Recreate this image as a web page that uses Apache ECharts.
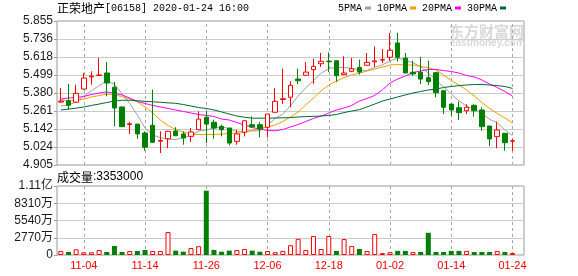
<!DOCTYPE html>
<html><head><meta charset="utf-8">
<script src="https://cdn.jsdelivr.net/npm/echarts@6/dist/echarts.min.js"></script>
<style>html,body{margin:0;padding:0;background:#fff}#c{width:578px;height:276px}</style>
</head><body><div id="c"></div>
<script>
const stockName = '正荣地产[06158]';
const stamp = '2020-01-24 16:00';
const dates = ['10-30','10-31','11-01','11-04','11-05','11-06','11-07','11-08','11-11','11-12',
  '11-13','11-14','11-15','11-18','11-19','11-20','11-21','11-22','11-25','11-26',
  '11-27','11-28','11-29','12-02','12-03','12-04','12-05','12-06','12-09','12-10',
  '12-11','12-12','12-13','12-16','12-17','12-18','12-19','12-20','12-23','12-24',
  '12-27','12-30','12-31','01-02','01-03','01-06','01-07','01-08','01-09','01-10',
  '01-13','01-14','01-15','01-16','01-17','01-20','01-21','01-22','01-23','01-24'];
const tickDates = ['11-04','11-14','11-26','12-06','12-18','01-02','01-14','01-24'];
const opens = [5.320,5.329,5.319,5.406,5.486,5.495,5.512,5.418,5.288,5.172,
  5.175,5.116,5.167,5.062,5.078,5.129,5.110,5.094,5.138,5.220,
  5.187,5.160,5.149,5.061,5.121,5.171,5.171,5.154,5.253,5.337,
  5.352,5.472,5.497,5.534,5.573,5.590,5.593,5.501,5.523,5.549,
  5.563,5.586,5.597,5.616,5.710,5.611,5.517,5.517,5.481,5.514,
  5.395,5.307,5.283,5.263,5.299,5.268,5.162,5.092,5.114,5.062];
const closes = [5.327,5.299,5.378,5.479,5.492,5.499,5.446,5.281,5.158,5.177,
  5.110,5.022,5.055,5.067,5.127,5.098,5.083,5.123,5.208,5.175,
  5.149,5.138,5.050,5.110,5.197,5.156,5.142,5.241,5.325,5.342,
  5.431,5.461,5.518,5.556,5.589,5.587,5.494,5.512,5.540,5.518,
  5.582,5.592,5.600,5.662,5.616,5.512,5.506,5.472,5.455,5.382,
  5.286,5.268,5.250,5.286,5.263,5.158,5.077,5.136,5.052,5.065];
const lows = [5.314,5.270,5.314,5.402,5.435,5.495,5.358,5.160,5.155,5.110,
  5.078,4.999,5.050,4.984,5.017,5.096,5.039,5.057,5.138,5.050,
  5.078,5.094,5.035,5.039,5.094,5.149,5.088,5.088,5.253,5.307,
  5.286,5.439,5.497,5.439,5.552,5.518,5.453,5.501,5.518,5.501,
  5.563,5.552,5.578,5.593,5.589,5.512,5.492,5.439,5.433,5.352,
  5.241,5.228,5.202,5.241,5.224,5.131,5.030,5.015,4.999,4.999];
const highs = [5.413,5.439,5.435,5.512,5.523,5.611,5.584,5.453,5.290,5.189,
  5.175,5.127,5.402,5.127,5.131,5.154,5.127,5.149,5.259,5.259,
  5.204,5.171,5.149,5.138,5.197,5.226,5.189,5.241,5.413,5.540,
  5.457,5.540,5.584,5.606,5.644,5.648,5.593,5.622,5.611,5.600,
  5.644,5.688,5.670,5.776,5.776,5.644,5.593,5.619,5.593,5.514,
  5.395,5.307,5.323,5.305,5.305,5.286,5.162,5.191,5.114,5.075];
const ma5 = [5.294,5.301,5.321,5.360,5.395,5.429,5.458,5.439,5.374,5.311,
  5.234,5.149,5.104,5.085,5.076,5.073,5.086,5.099,5.128,5.137,
  5.148,5.159,5.144,5.124,5.129,5.130,5.131,5.169,5.212,5.241,
  5.296,5.360,5.415,5.461,5.511,5.542,5.549,5.548,5.544,5.530,
  5.529,5.549,5.566,5.591,5.610,5.596,5.579,5.554,5.512,5.465,
  5.420,5.373,5.328,5.294,5.271,5.245,5.207,5.184,5.137,5.098];
const ma10 = [5.334,5.330,5.330,5.340,5.354,5.363,5.373,5.367,5.357,5.340,
  5.321,5.288,5.248,5.202,5.166,5.139,5.123,5.109,5.106,5.106,
  5.106,5.109,5.113,5.116,5.119,5.133,5.146,5.156,5.169,5.192,
  5.222,5.255,5.301,5.347,5.393,5.433,5.459,5.482,5.499,5.512,
  5.525,5.538,5.551,5.565,5.568,5.565,5.565,5.555,5.548,5.532,
  5.499,5.462,5.433,5.400,5.360,5.317,5.278,5.245,5.215,5.182];
const ma20 = [5.340,5.347,5.350,5.357,5.370,5.380,5.387,5.380,5.367,5.347,
  5.324,5.311,5.298,5.288,5.278,5.268,5.258,5.248,5.238,5.232,
  5.225,5.208,5.202,5.185,5.169,5.152,5.142,5.133,5.131,5.139,
  5.156,5.172,5.192,5.212,5.228,5.248,5.268,5.281,5.298,5.327,
  5.344,5.364,5.400,5.446,5.472,5.492,5.515,5.525,5.535,5.535,
  5.528,5.522,5.512,5.495,5.486,5.466,5.439,5.416,5.390,5.360];
const ma30 = [5.268,5.274,5.280,5.288,5.298,5.307,5.317,5.327,5.332,5.332,
  5.329,5.325,5.322,5.319,5.315,5.312,5.304,5.294,5.284,5.278,
  5.268,5.255,5.241,5.228,5.220,5.214,5.214,5.214,5.215,5.216,
  5.218,5.222,5.224,5.226,5.228,5.232,5.238,5.251,5.261,5.270,
  5.288,5.307,5.327,5.340,5.354,5.367,5.380,5.390,5.400,5.406,
  5.416,5.423,5.429,5.433,5.436,5.436,5.433,5.429,5.423,5.410];
const volumes = [6400000,4800000,9100000,4300000,4300000,8000000,4800000,14400000,4800000,6400000,
  6400000,8000000,6400000,6400000,36800000,7000000,5300000,11200000,14100000,103200000,
  8200000,5300000,7000000,8000000,9600000,7000000,5300000,6400000,4500000,6600000,
  15700000,26000000,8000000,30400000,9600000,30400000,6600000,25600000,14400000,9800000,
  6400000,33600000,3000000,4600000,6600000,6600000,4600000,4800000,35700000,4800000,
  4800000,6600000,6600000,6600000,4800000,4800000,4800000,6600000,4800000,3353000];
const volUp = [1,0,1,1,1,1,0,0,0,1, 0,0,1,1,1,0,0,1,1,0, 0,0,0,1,1,0,0,1,1,1,
  1,1,1,1,1,1,0,1,1,0, 1,1,1,1,0,0,1,0,0,0, 0,0,0,1,0,0,0,1,0,1];
const priceTicks = ['4.905','5.024','5.142','5.261','5.380','5.499','5.618','5.736','5.855'];
const priceBase = 4.905, priceStep = 0.11875;
const volTicks = ['0','2770万','5540万','8310万','1.11亿'];
const volStep = 27700000;

const RED = '#ff0000', GREEN = '#008000';
const cats = dates.concat(['']);
const off = v => +(v - priceBase).toFixed(4);
const candle = dates.map((d, i) => [off(opens[i]), off(closes[i]), off(lows[i]), off(highs[i])]);
const volData = volumes.map((v, i) => ({
  value: v,
  itemStyle: volUp[i] ? {color: '#ffffff', borderColor: RED, borderWidth: 1} : {color: GREEN, borderColor: GREEN, borderWidth: 0}
}));
const isTick = (idx, val) => tickDates.indexOf(val) >= 0 || tickDates.indexOf(cats[idx]) >= 0;
const tickIdx = tickDates.map(d => dates.indexOf(d));
const dashLines = {
  silent: true, symbol: ['none', 'none'], precision: 4, z: 1,
  label: {show: false},
  lineStyle: {color: '#a8a8a8', type: [3, 3], width: 1},
  data: tickIdx.map(i => ({xAxis: i}))
};
const maLine = (name, arr, color) => ({
  name, type: 'line', data: arr.map(off), xAxisIndex: 0, yAxisIndex: 0,
  symbol: 'none', smooth: false, z: 3, silent: true,
  lineStyle: {color, width: 1}, itemStyle: {color}
});
const mono = 'Liberation Mono, DejaVu Sans Mono, monospace';
const sans = 'Liberation Sans, Noto Sans CJK SC, sans-serif';
const cjk = 'Noto Sans CJK SC, sans-serif';

const chart = echarts.init(document.getElementById('c'), null, {renderer: 'canvas'});
chart.setOption({
  animation: false,
  backgroundColor: '#ffffff',
  title: [
    {left: 57, top: 2, padding: 0, text: '{a|' + stockName.slice(0, 4) + '}{b|' + stockName.slice(4) + ' ' + stamp + '}',
     textStyle: {fontWeight: 'normal', rich: {a: {fontFamily: cjk, fontSize: 12, fontWeight: 'normal', color: '#000'}, b: {fontFamily: mono, fontSize: 10, fontWeight: 'normal', color: '#000'}}}},
    {left: 57, top: 171, padding: 0, text: '{a|成交量}{b|:' + volumes[volumes.length - 1] + '}',
     textStyle: {fontWeight: 'normal', rich: {a: {fontFamily: cjk, fontSize: 12, fontWeight: 'normal', color: '#000'}, b: {fontFamily: sans, fontSize: 12, fontWeight: 'normal', color: '#000'}}}}
  ],
  legend: {
    left: 338, top: 3, padding: 0, align: 'right', itemGap: 6, itemWidth: 6, itemHeight: 3,
    icon: 'rect', selectedMode: false,
    textStyle: {fontFamily: mono, fontSize: 10, color: '#000', padding: [0, -2, 0, 0]},
    data: ['5PMA', '10PMA', '20PMA', '30PMA']
  },
  graphic: [
    {type: 'text', left: 449, top: 24, z: 0, silent: true,
     style: {text: '东方财富网', fontFamily: cjk, fontSize: 15, fontWeight: 'bold', fill: '#d9d9d9'}},
    {type: 'text', left: 450, top: 38, z: 0, silent: true,
     style: {text: 'eastmoney.com', fontFamily: sans, fontSize: 10, fontWeight: 'bold', fill: '#d9d9d9'}}
  ],
  grid: [
    {left: 57, top: 21, width: 467, height: 144, show: true, borderColor: '#999', borderWidth: 1, containLabel: false, outerBoundsMode: 'none'},
    {left: 57, top: 186, width: 467, height: 69, show: true, borderColor: '#999', borderWidth: 1, containLabel: false, outerBoundsMode: 'none'}
  ],
  xAxis: [
    {type: 'category', gridIndex: 0, data: cats, boundaryGap: true,
     axisLine: {show: false}, axisTick: {show: false},
     axisLabel: {show: false}, splitLine: {show: false}},
    {type: 'category', gridIndex: 1, data: cats, boundaryGap: true,
     axisLine: {show: false}, axisTick: {show: false}, splitLine: {show: false},
     axisLabel: {show: true, interval: isTick, color: RED, fontFamily: sans, fontSize: 11, margin: 5}}
  ],
  yAxis: [
    {type: 'value', gridIndex: 0, min: 0, max: priceStep * 8, interval: priceStep,
     axisLine: {show: false}, axisTick: {show: true, length: 3, lineStyle: {color: '#999'}},
     splitLine: {show: true, lineStyle: {color: '#cccccc', width: 1}},
     axisLabel: {margin: 4, fontFamily: sans, fontSize: 12, color: '#1a1a1a',
       formatter: v => priceTicks[Math.round(v / priceStep)] || ''}},
    {type: 'value', gridIndex: 1, min: 0, max: volStep * 4, interval: volStep,
     axisLine: {show: false}, axisTick: {show: true, length: 3, lineStyle: {color: '#999'}},
     splitLine: {show: true, lineStyle: {color: '#cccccc', width: 1}},
     axisLabel: {margin: 4, fontFamily: sans, fontSize: 12, color: '#1a1a1a',
       formatter: v => volTicks[Math.round(v / volStep)] || ''}}
  ],
  series: [
    {name: 'K', type: 'candlestick', xAxisIndex: 0, yAxisIndex: 0, data: candle, barWidth: 5, z: 4, silent: true,
     itemStyle: {color: '#ffffff', color0: GREEN, borderColor: RED, borderColor0: GREEN, borderWidth: 1}},
    maLine('5PMA', ma5, '#a0a0a0'),
    maLine('10PMA', ma10, '#f0a000'),
    maLine('20PMA', ma20, '#ff00ff'),
    Object.assign(maLine('30PMA', ma30, '#006a30'), {markLine: dashLines}),
    {name: 'VOL', type: 'bar', xAxisIndex: 1, yAxisIndex: 1, data: volData, barWidth: 5, z: 4, silent: true},
    {name: 'VOLGRID', type: 'line', xAxisIndex: 1, yAxisIndex: 1, data: volumes.map(() => '-'), z: 1,
     symbol: 'none', silent: true, lineStyle: {width: 0}, markLine: dashLines}
  ]
});
</script></body></html>
